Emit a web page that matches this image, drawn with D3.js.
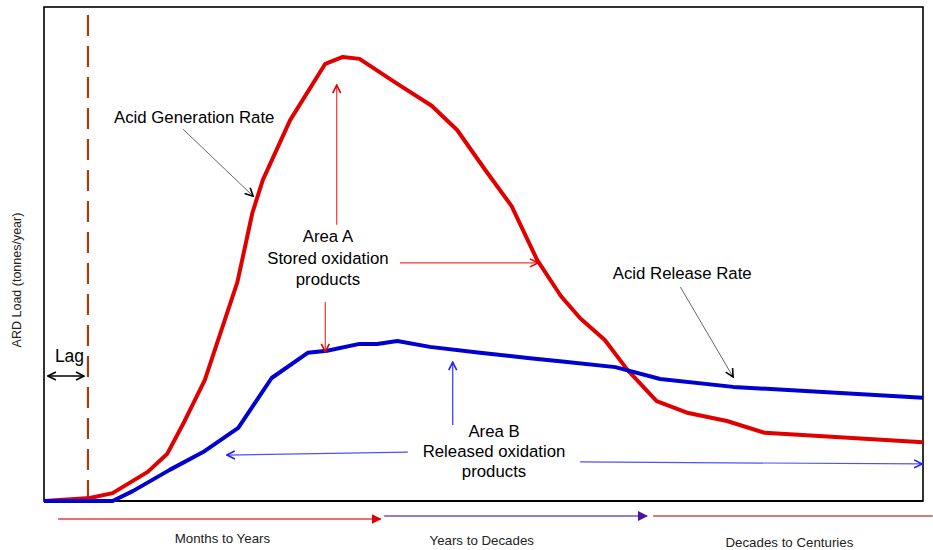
<!DOCTYPE html>
<html><head><meta charset="utf-8">
<script src="https://cdn.jsdelivr.net/npm/d3@7"></script>
<style>body{margin:0;background:#fff}svg{display:block;font-family:"Liberation Sans",Arial,sans-serif}</style>
</head><body><svg id="c" width="933" height="550"></svg>
<script>
// time (relative units, 0-100) and ARD load (relative units, 0-100)
const genTime = [0,5.2,7.8,11.8,14.0,16.0,18.3,22.0,23.7,24.9,28.0,32.0,34.0,35.9,39.9,44.1,47.0,50.2,53.2,56.1,58.8,61.0,63.8,66.4,69.7,73.3,77.7,82.0,100];
const genLoad = [0,0.6,1.6,5.9,9.5,16.2,24.5,44.3,58.3,65.0,77.1,88.5,89.9,89.5,84.8,80.0,75.1,67.0,59.7,48.8,41.5,37.0,32.6,26.5,20.2,17.8,16.2,13.8,11.9];
const relTime = [0,7.8,10.1,14.3,18.1,22.1,25.9,30.0,32.2,35.9,37.9,40.2,43.9,49.6,55.3,58.7,65.0,70.1,78.4,100];
const relLoad = [0,0,2.0,6.3,9.9,14.8,24.9,30.0,30.4,31.8,31.8,32.4,31.2,30.0,28.9,28.3,27.1,24.7,23.1,20.9];
const lagTime = 5.0;
const phaseLabels = ["Months to Years","Years to Decades","Decades to Centuries"];
const phaseStart = [1.6,38.7,69.3];
const phaseEnd = [38.3,68.6,101.1];
const phaseCenter = [20.3,49.8,84.8];
const yLabel = "ARD Load (tonnes/year)";

const svg = d3.select("#c");
const x = d3.scaleLinear().domain([0,100]).range([44,923]);
const y = d3.scaleLinear().domain([0,100]).range([501,7]);
const FS = 16.8;

// markers
const defs = svg.append("defs");
function mk(id, color, sz){
  defs.append("marker").attr("id",id).attr("viewBox","0 0 10 10").attr("refX",9).attr("refY",5)
    .attr("markerWidth",sz).attr("markerHeight",sz).attr("markerUnits","userSpaceOnUse").attr("orient","auto-start-reverse")
    .append("path").attr("d","M1,1 L9,5 L1,9").attr("fill","none").attr("stroke",color).attr("stroke-width",1.6);
}
function mkf(id, color, sz){
  defs.append("marker").attr("id",id).attr("viewBox","0 0 10 10").attr("refX",9).attr("refY",5)
    .attr("markerWidth",sz).attr("markerHeight",sz).attr("markerUnits","userSpaceOnUse").attr("orient","auto")
    .append("path").attr("d","M0,0 L10,5 L0,10 Z").attr("fill",color);
}
mk("aBlack","#000",10); mk("aRed","#e00000",10); mk("aBlue","#2020ff",10);
mkf("fRed","#e00000",10); mkf("fPurple","#5010a0",10);

// frame
svg.append("rect").attr("x",x(0)).attr("y",y(100)).attr("width",x(100)-x(0)).attr("height",y(0)-y(100))
  .attr("fill","none").attr("stroke","#000").attr("stroke-width",1.6);
svg.append("line").attr("x1",x(0)).attr("x2",x(100)).attr("y1",y(0)).attr("y2",y(0)).attr("stroke","#000").attr("stroke-width",2);

// y label
svg.append("text").attr("transform",`translate(21,${(y(0)+y(100))/2+26}) rotate(-90)`)
  .attr("text-anchor","middle").attr("font-size",12.5).attr("fill","#222").text(yLabel);

// lag dashed line
svg.append("line").attr("x1",x(lagTime)).attr("x2",x(lagTime)).attr("y1",y(98.4)).attr("y2",y(0))
  .attr("stroke","#a0410d").attr("stroke-width",2.2).attr("stroke-dasharray","21,10");

const line = d3.line().x(d=>x(d[0])).y(d=>y(d[1]));
svg.append("path").datum(genTime.map((t,i)=>[t,genLoad[i]])).attr("d",line)
  .attr("fill","none").attr("stroke","#e00000").attr("stroke-width",4).attr("stroke-linejoin","round");
svg.append("path").datum(relTime.map((t,i)=>[t,relLoad[i]])).attr("d",line)
  .attr("fill","none").attr("stroke","#0000d0").attr("stroke-width",4).attr("stroke-linejoin","round");

function arrow(x1,y1,x2,y2,color,w,marker,both){
  const l = svg.append("line").attr("x1",x(x1)).attr("y1",y(y1)).attr("x2",x(x2)).attr("y2",y(y2))
    .attr("stroke",color).attr("stroke-width",w).attr("marker-end",`url(#${marker})`);
  if(both) l.attr("marker-start",`url(#${marker})`);
}
function txt(tx,ty,s,anchor,size,col){
  svg.append("text").attr("x",x(tx)).attr("y",y(ty)).attr("text-anchor",anchor).attr("font-size",size)
    .attr("fill",col||"#000").text(s);
}

// Lag
arrow(0.45,25.3,4.55,25.3,"#000",1.4,"aBlack",true);
txt(2.9,28.1,"Lag","middle",17.5);

// Acid Generation Rate
txt(7.96,76.5,"Acid Generation Rate","start",FS);
arrow(15.8,75.3,23.8,61.7,"#555",0.9,"aBlack");

// Area A
txt(32.3,52.4,"Area A","middle",FS);
txt(32.3,48.0,"Stored oxidation","middle",FS);
txt(32.3,43.7,"products","middle",FS);
arrow(33.3,55.9,33.3,84.2,"#ff3030",1.2,"aRed");
arrow(32.0,40.3,32.0,30.2,"#ff3030",1.2,"aRed");
arrow(40.5,48.2,56.2,48.2,"#ff3030",1.2,"aRed");

// Acid Release Rate
txt(64.7,44.9,"Acid Release Rate","start",FS);
arrow(72.4,43.3,78.4,25.1,"#555",0.9,"aBlack");

// Area B
txt(51.2,13.0,"Area B","middle",FS);
txt(51.2,8.9,"Released oxidation","middle",FS);
txt(51.2,4.9,"products","middle",FS);
arrow(46.5,15.4,46.5,28.1,"#3030ff",1.2,"aBlue");
arrow(41.4,9.9,20.8,9.3,"#5050ff",1.2,"aBlue");
arrow(61.0,7.9,99.9,7.5,"#5050ff",1.2,"aBlue");

// timeline phases
const phaseCols = ["#e84040","#7050c8","#c05050"];
const phaseMarks = ["fRed","fPurple",null];
const phaseY = [-3.64,-3.04,-3.04];
const baseY = [-8.5,-8.9,-9.3];
phaseLabels.forEach((lab,i)=>{
  const l = svg.append("line").attr("x1",x(phaseStart[i])).attr("x2",x(phaseEnd[i])).attr("y1",y(phaseY[i])).attr("y2",y(phaseY[i]))
    .attr("stroke",phaseCols[i]).attr("stroke-width",1.3);
  if(phaseMarks[i]) l.attr("marker-end",`url(#${phaseMarks[i]})`);
  txt(phaseCenter[i],baseY[i],lab,"middle",13.3,"#222");
});
</script></body></html>
